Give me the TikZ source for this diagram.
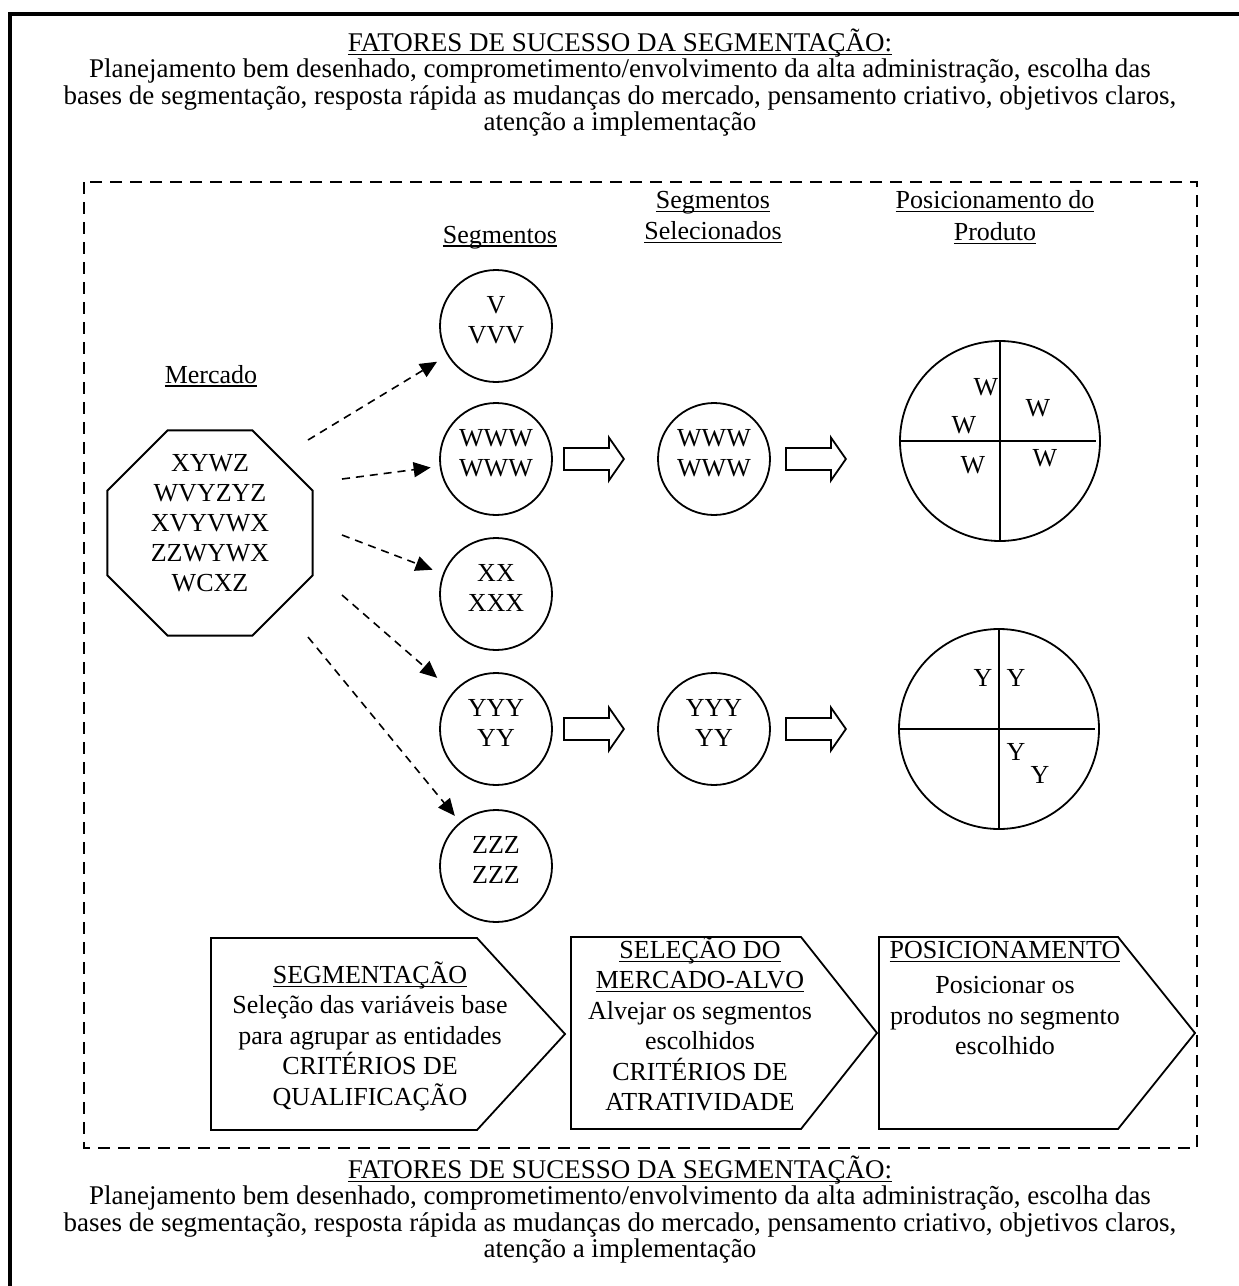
\documentclass[tikz,border=0pt]{standalone}
\usepackage{fontspec}
\setmainfont{Liberation Serif}
\usetikzlibrary{shapes.geometric,arrows.meta}
% struts used to place the multi-line texts
\newcommand\topstrut{\rule{0pt}{24pt}}
\newcommand\dropstrut[1]{\rule[-#1]{0pt}{#1}}
% underline drawn just under the baseline, crossing descenders
\newcommand\ul[1]{\setbox0\hbox{#1}\rlap{\rule[-3.6pt]{\wd0}{1.3pt}}\box0}
\begin{document}
\begin{tikzpicture}[x=1pt,y=-1pt,
  txt/.style={font=\fontsize{26}{30}\selectfont, inner sep=0pt, align=center},
  hdr/.style={font=\fontsize{27}{26.5}\selectfont, inner sep=0pt, align=center},
  stagetxt/.style={font=\fontsize{26}{30.5}\selectfont, inner sep=0pt, align=center, anchor=north},
  seg/.style={circle, draw, line width=1.8pt, minimum size=112pt, inner sep=0pt, txt},
  big/.style={circle, draw, line width=1.8pt, minimum size=200pt, inner sep=0pt},
  mkt/.style={regular polygon, regular polygon sides=8, draw, line width=2pt,
              minimum size=222pt, inner sep=0pt},
  quad/.style={font=\fontsize{26}{30}\selectfont, inner sep=0pt},
  dasharrow/.style={line width=1.6pt, dash pattern=on 8pt off 6pt,
                    -{Triangle[length=17pt,width=15pt]}},
  stage/.style={draw, line width=1.8pt, line join=miter},
  blockarrow/.pic={\draw[line width=1.8pt, line join=miter]
      (0,-11) -- (45,-11) -- (45,-21.5) -- (60,0) -- (45,21.5) -- (45,11) -- (0,11) -- cycle;}
]
\path[use as bounding box, clip] (0,0) rectangle (1239,1286);
\fill[white] (0,0) rectangle (1239,1286);

% outer frame (runs past the right and bottom edges)
\draw[line width=4pt] (10,14) rectangle (1270,1310);

% success factors, above and below
\node[hdr, anchor=north] (topfactors) at (620,27) {\topstrut\ul{FATORES DE SUCESSO DA SEGMENTAÇÃO:}\\
  Planejamento bem desenhado, comprometimento/envolvimento da alta administração, escolha das\\
  bases de segmentação, resposta rápida as mudanças do mercado, pensamento criativo, objetivos claros,\\
  atenção a implementação};
\node[hdr, anchor=north] (botfactors) at (620,1154) {\topstrut\ul{FATORES DE SUCESSO DA SEGMENTAÇÃO:}\\
  Planejamento bem desenhado, comprometimento/envolvimento da alta administração, escolha das\\
  bases de segmentação, resposta rápida as mudanças do mercado, pensamento criativo, objetivos claros,\\
  atenção a implementação};

% dashed process frame
\draw[line width=2.6pt, dash pattern=on 12pt off 8pt] (84,182) rectangle (1197,1148);

% column headings
\node[txt, anchor=base] (mercadohdr) at (211,383) {\ul{Mercado}};
\node[txt, anchor=base] (seghdr) at (500,243) {\ul{Segmentos}};
\node[txt, anchor=north, font=\fontsize{26}{31}\selectfont] (selhdr) at (713,184)
  {\topstrut\ul{Segmentos}\\\ul{Selecionados}};
\node[txt, anchor=north, font=\fontsize{26}{32}\selectfont] (poshdr) at (995,184)
  {\topstrut\ul{Posicionamento do}\\\ul{Produto}};

% market
\node[mkt] (mercado) at (210,533) {};
\node[txt, anchor=north] (mercadotxt) at (210,447)
  {\topstrut XYWZ\\WVYZYZ\\XVYVWX\\ZZWYWX\\WCXZ};

% segments
\node[seg] (sv) at (496,326) {V\\VVV\dropstrut{13pt}};
\node[seg] (sw) at (496,459) {WWW\\WWW\dropstrut{13pt}};
\node[seg] (sx) at (496,594) {XX\\XXX\dropstrut{13pt}};
\node[seg] (sy) at (496,729) {YYY\\YY\dropstrut{13pt}};
\node[seg] (sz) at (496,866) {ZZZ\\ZZZ\dropstrut{13pt}};

% selected segments
\node[seg] (selw) at (714,459) {WWW\\WWW\dropstrut{13pt}};
\node[seg] (sely) at (714,729) {YYY\\YY\dropstrut{13pt}};

% product positioning maps
\node[big] (posw) at (1000,441) {};
\draw[line width=1.8pt] (posw.north) -- (posw.south);
\draw[line width=1.8pt] (posw.west) -- ([xshift=-5pt]posw.east);
\node[quad] (w1) at (986,387) {W};
\node[quad] (w2) at (964,425) {W};
\node[quad] (w3) at (1038,408) {W};
\node[quad] (w4) at (973,465) {W};
\node[quad] (w5) at (1045,458) {W};

\node[big] (posy) at (999,729) {};
\draw[line width=1.8pt] (posy.north) -- (posy.south);
\draw[line width=1.8pt] (posy.west) -- ([xshift=-5pt]posy.east);
\node[quad] (y1) at (983,678) {Y};
\node[quad] (y2) at (1016,678) {Y};
\node[quad] (y3) at (1016,752) {Y};
\node[quad] (y4) at (1040,775) {Y};

% dashed arrows from the market to the segments
\coordinate (m1) at (308,440);
\coordinate (m2) at (342,479);
\coordinate (m3) at (342,535);
\coordinate (m4) at (342,595);
\coordinate (m5) at (308,637);
\draw[dasharrow, shorten >=12pt] (m1) -- (sv);
\draw[dasharrow, shorten >=9pt] (m2) -- (sw);
\draw[dasharrow, shorten >=11pt] (m3) -- (sx);
\draw[dasharrow, shorten >=21pt] (m4) -- (sy);
\draw[dasharrow, shorten >=8pt] (m5) -- (sz);

% block arrows between the stages
\pic (bw1) at ([xshift=11pt]sw.east) {blockarrow};
\pic (bw2) at ([xshift=15pt]selw.east) {blockarrow};
\pic (by1) at ([xshift=11pt]sy.east) {blockarrow};
\pic (by2) at ([xshift=15pt]sely.east) {blockarrow};

% stage boxes
\draw[stage] (211,938) -- (477,938) -- (565,1034) -- (477,1130) -- (211,1130) -- cycle;
\draw[stage] (571,937) -- (801,937) -- (877,1033) -- (801,1129) -- (571,1129) -- cycle;
\draw[stage] (879,937) -- (1118,937) -- (1195,1033) -- (1118,1129) -- (879,1129) -- cycle;

\node[stagetxt] (segtxt) at (370,959) {\topstrut\ul{SEGMENTAÇÃO}\\
  Seleção das variáveis base\\para agrupar as entidades\\CRITÉRIOS DE\\QUALIFICAÇÃO};
\node[stagetxt] (alvotxt) at (700,934) {\topstrut\ul{SELEÇÃO DO}\\\ul{MERCADO-ALVO}\\
  Alvejar os segmentos\\escolhidos\\CRITÉRIOS DE\\ATRATIVIDADE};
\node[stagetxt] (postxt) at (1005,934) {\topstrut\ul{POSICIONAMENTO}\\[5pt]
  Posicionar os\\produtos no segmento\\escolhido};
\end{tikzpicture}
\end{document}
